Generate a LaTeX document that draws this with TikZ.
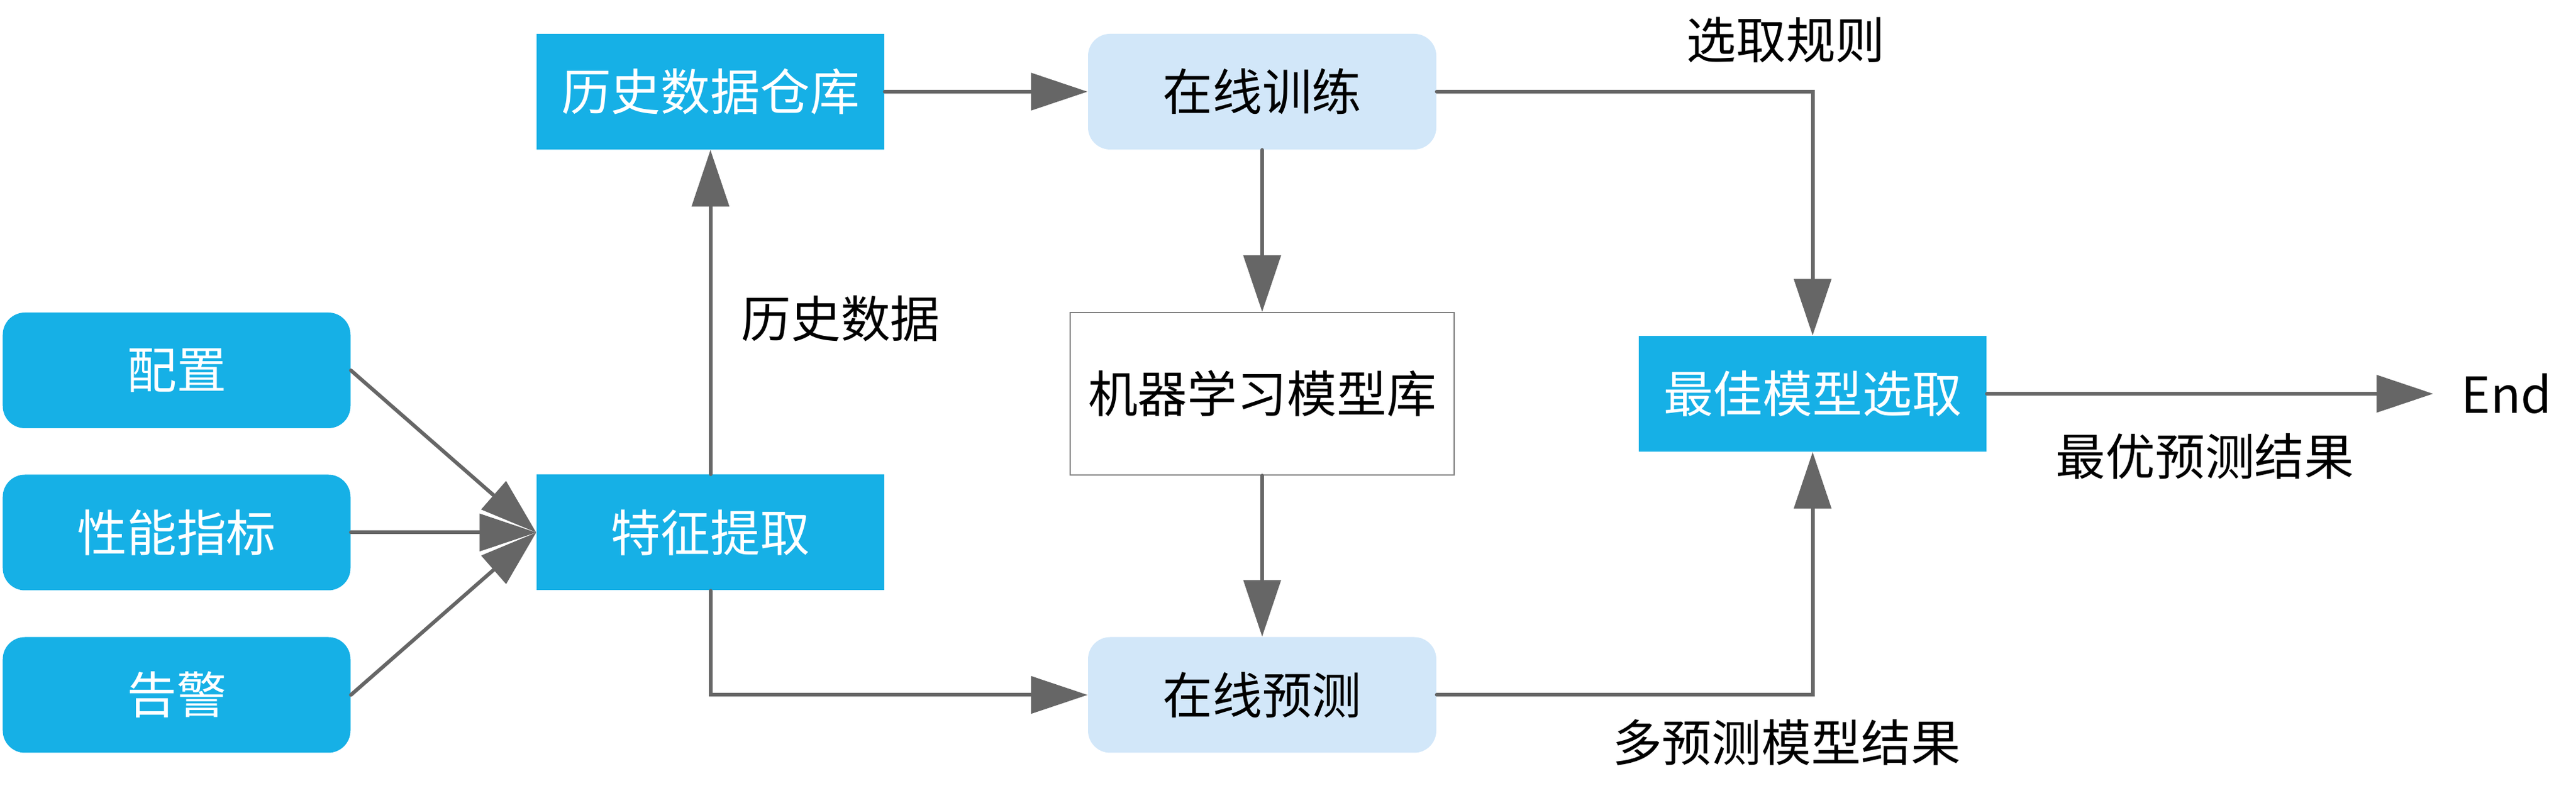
\documentclass[tikz,border=0pt]{standalone}
\usepackage{xcolor}
\usepackage{fontspec}
\setmainfont{Noto Sans CJK SC}
\usepackage{tikz}
\usetikzlibrary{arrows.meta, positioning, calc}
\definecolor{inputcolor}{RGB}{22, 176, 230}
\definecolor{onlinecolor}{RGB}{210, 231, 249}
\definecolor{linecolor}{RGB}{102, 102, 102}
\definecolor{bordercolor}{RGB}{125, 125, 125}

\begin{document}
\begin{tikzpicture}[
        bluebox/.style={fill=inputcolor, text=white, minimum width=5.65cm, minimum height=1.88cm, inner sep=0pt},
        roundbox/.style={bluebox, rounded corners=0.36cm},
        onlinebox/.style={fill=onlinecolor, text=black, rounded corners=0.36cm, minimum width=5.66cm, minimum height=1.88cm, inner sep=0pt},
        flow/.style={draw=linecolor, line width=0.06cm, line cap=round, -{Triangle[length=0.92cm, width=0.6cm]}},
        every node/.style={font=\fontsize{23pt}{28pt}\selectfont}
    ]
        \useasboundingbox (0, 0) rectangle (41.86, 12.97);

        % Inputs
        \node[roundbox] (config) at (2.87, 6.95) {配置};
        \node[roundbox] (perf) at (2.87, 4.315) {性能指标};
        \node[roundbox] (alarm) at (2.87, 1.675) {告警};

        % Feature and history
        \node[bluebox] (feature) at (11.545, 4.315) {特征提取};
        \node[bluebox] (history) at (11.545, 11.48) {历史数据仓库};

        % Online training and prediction
        \node[onlinebox] (train) at (20.51, 11.48) {在线训练};
        \node[draw=bordercolor, line width=0.02cm, fill=white, minimum width=6.24cm, minimum height=2.64cm, inner sep=0pt] (library) at (20.51, 6.57) {机器学习模型库};
        \node[onlinebox] (predict) at (20.51, 1.675) {在线预测};

        % Selection
        \node[bluebox] (best) at (29.455, 6.57) {最佳模型选取};
        \node[inner sep=0pt, inner xsep=0.45cm] (end) at (40.73, 6.57) {End};

        % Connectors
        \draw[flow] (config.east) -- (feature.west);
        \draw[flow] (perf.east) -- (feature.west);
        \draw[flow] (alarm.east) -- (feature.west);
        \draw[flow] (feature.north) -- (history.south);
        \draw[flow] (feature.south) |- (predict.west);
        \draw[flow] (history.east) -- (train.west);
        \draw[flow] (train.south) -- (library.north);
        \draw[flow] (library.south) -- (predict.north);
        \draw[flow] (train.east) -| (best.north);
        \draw[flow] (predict.east) -| (best.south);
        \draw[flow] (best.east) -- (end.west);

        % Labels
        \node (historylabel) at (13.66, 7.79) {历史数据};
        \node (rulelabel) at (29.02, 12.32) {选取规则};
        \node (multilabel) at (29.03, 0.90) {多预测模型结果};
        \node (resultlabel) at (35.83, 5.55) {最优预测结果};
    \end{tikzpicture}
\end{document}
